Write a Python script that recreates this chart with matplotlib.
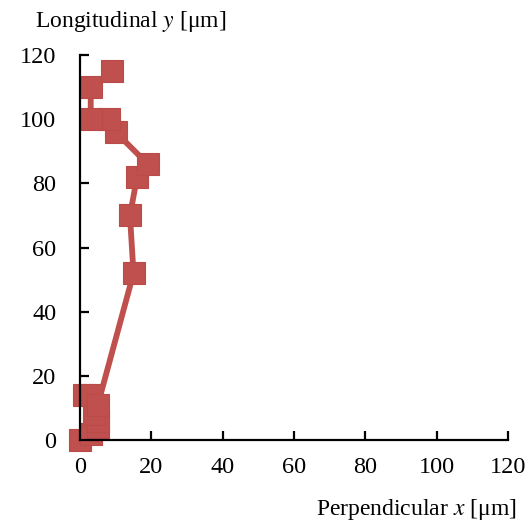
import matplotlib
matplotlib.use("Agg")
import matplotlib.pyplot as plt

plt.rcParams['font.family'] = ['Liberation Serif', 'DejaVu Serif']
plt.rcParams['mathtext.fontset'] = 'stix'

# trajectory (um)
perp_x = [0, 3, 5, 5, 4, 1, 3, 5, 15, 14, 16, 19, 10, 8, 3, 3, 9]
long_y = [0, 2, 4, 6, 8, 14, 14, 11, 52, 70, 82, 86, 96, 100, 100, 110, 115]
ticks = [0, 20, 40, 60, 80, 100, 120]

fig = plt.figure(figsize=(5.31, 5.23), dpi=100)
ax = fig.add_axes([0.1507, 0.1587, 0.806, 0.736])

ax.plot(perp_x, long_y, color='#C0504D', lw=4.2, marker='s', ms=16,
        mfc='#C0504D', mec='#BA4B48', mew=0.8, clip_on=False)

ax.set_xlim(0, 120)
ax.set_ylim(0, 120)
ax.set_xticks(ticks)
ax.set_yticks(ticks)
for s in ['top', 'right']:
    ax.spines[s].set_visible(False)
for s in ['left', 'bottom']:
    ax.spines[s].set_linewidth(1.6)
ax.tick_params(direction='in', length=6.5, width=1.6, labelsize=17.5)
ax.tick_params(axis='y', pad=17)
ax.tick_params(axis='x', pad=12)

fig.text(0.066, 0.958, 'Longitudinal $y$ [μm]', fontsize=17, va='center', ha='left')
fig.text(0.972, 0.025, 'Perpendicular $x$ [μm]', fontsize=17, va='center', ha='right')

fig.savefig('out.png', dpi=100)
